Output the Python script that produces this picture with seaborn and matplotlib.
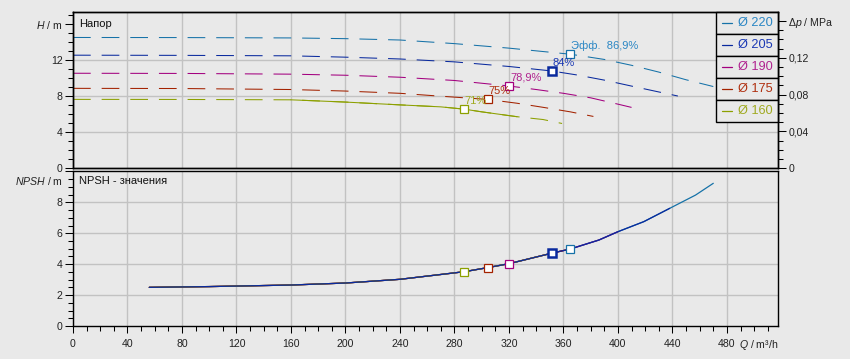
import numpy as np
import pandas as pd
import matplotlib.pyplot as plt
import matplotlib.ticker as mticker
from matplotlib.patches import Rectangle
import seaborn as sns

# impeller diameters and their colours
diameters = ["Ø 220", "Ø 205", "Ø 190", "Ø 175", "Ø 160"]
line_colors = ["#1672a8", "#0a2a9e", "#a3007f", "#a32200", "#8ca000"]
text_colors = ["#2a86c4", "#1a38b4", "#b0228f", "#b03010", "#a0aa20"]

# H-Q curves (m³/h, m)
q_220 = [0, 80, 160, 200, 240, 280, 320, 350, 365, 390, 410, 430, 450, 470]
h_220 = [14.48, 14.47, 14.43, 14.35, 14.2, 13.8, 13.3, 12.85, 12.63, 12.05, 11.4, 10.65, 9.8, 9.05]
q_205 = [0, 80, 160, 200, 240, 280, 320, 351, 370, 390, 410, 430, 444]
h_205 = [12.52, 12.5, 12.45, 12.3, 12.1, 11.78, 11.27, 10.78, 10.33, 9.76, 9.1, 8.45, 8.0]
q_190 = [0, 80, 160, 200, 240, 280, 320, 340, 360, 380, 400, 410]
h_190 = [10.52, 10.5, 10.42, 10.3, 10.08, 9.72, 9.11, 8.72, 8.3, 7.8, 7.1, 6.74]
q_175 = [0, 80, 160, 200, 240, 270, 304, 326, 345, 365, 382]
h_175 = [8.85, 8.83, 8.72, 8.55, 8.3, 7.98, 7.63, 7.2, 6.75, 6.25, 5.74]
q_160 = [0, 80, 160, 200, 240, 270, 287, 300, 326, 345, 359]
h_160 = [7.63, 7.62, 7.58, 7.33, 7.02, 6.8, 6.55, 6.25, 5.71, 5.4, 4.96]
q_curves = [q_220, q_205, q_190, q_175, q_160]
h_curves = [h_220, h_205, h_190, h_175, h_160]

# NPSH curve (shared), end of each diameter's range
npsh_q = [56, 100, 160, 200, 240, 287, 304, 320, 351, 365, 386, 400, 419, 438, 457, 470]
npsh_h = [2.5, 2.55, 2.65, 2.78, 3.02, 3.51, 3.77, 4.03, 4.7, 4.98, 5.56, 6.1, 6.75, 7.61, 8.47, 9.23]
q_max = [470, 444, 410, 382, 359]

# best efficiency points
eff_q = [364.8, 351.3, 320, 304.3, 286.7]
eff_h = [12.63, 10.78, 9.11, 7.63, 6.59]
eff_npsh = [4.98, 4.7, 4.03, 3.77, 3.51]
eff_labels = ["Эфф.  86,9%", "84%", "78,9%", "75%", "71%"]

x_ticks = list(range(0, 481, 40))
h_ticks = [0, 4, 8, 12, 16]
h_labels = ["0", "4", "8", "12", "$H$ / m"]
p_ticks = [0, 0.04, 0.08, 0.12, 0.16]
p_labels = ["0", "0,04", "0,08", "0,12", r"$\Delta p$ / MPa"]
n_ticks = [0, 2, 4, 6, 8, 10]
n_labels = ["0", "2", "4", "6", "8", ""]

bg = "#e9e9e9"
grid_c = "#c2c2c2"
fs = 7.6

sns.set_theme(style="ticks")
plt.rcParams["font.family"] = ["Liberation Sans", "DejaVu Sans"]
plt.rcParams["mathtext.fontset"] = "custom"
plt.rcParams["mathtext.rm"] = "Liberation Sans"
plt.rcParams["mathtext.it"] = "Liberation Sans:italic"
plt.rcParams["font.size"] = fs

fig = plt.figure(figsize=(8.5, 3.59), dpi=100, facecolor=bg)
ax = fig.add_axes([73 / 850, 1 - 168.3 / 359, 705 / 850, 156.3 / 359])
axn = fig.add_axes([73 / 850, 1 - 326 / 359, 705 / 850, 154.6 / 359])

curves = pd.DataFrame({
    "Q": np.concatenate(q_curves),
    "H": np.concatenate(h_curves),
    "D": np.repeat(diameters, [len(q) for q in q_curves]),
})
palette = dict(zip(diameters, line_colors))

sns.lineplot(data=curves, x="Q", y="H", hue="D", palette=palette, ax=ax,
             estimator=None, legend=False, lw=0.75, linestyle=(0, (17, 10.5)))
# Ø 160 drawn solid in its working range
solid = curves[(curves.D == "Ø 160") & (curves.Q >= 150) & (curves.Q <= 330)]
sns.lineplot(data=solid, x="Q", y="H", color=line_colors[4], ax=ax,
             estimator=None, legend=False, lw=0.75)

# NPSH lines, blue one on top
npsh = pd.DataFrame({"Q": npsh_q, "N": npsh_h})
for i in [0, 2, 3, 4, 1]:
    sub = npsh[npsh.Q <= q_max[i]]
    sns.lineplot(data=sub, x="Q", y="N", color=line_colors[i], ax=axn,
                 estimator=None, legend=False, lw=0.9)

edge_w = [0.9, 1.8, 0.9, 0.9, 0.9]
for i in range(5):
    for a, yv in [(ax, eff_h[i]), (axn, eff_npsh[i])]:
        a.plot(eff_q[i], yv, "s", ms=6, mfc="white", mec=line_colors[i],
               mew=edge_w[i], zorder=5)
    ax.annotate(eff_labels[i], xy=(eff_q[i], eff_h[i]), xytext=(1, 8),
                textcoords="offset pixels", ha="left", va="center",
                color=text_colors[i], fontsize=fs + 0.4, zorder=6)

p_scale = 0.00981
for a in (ax, axn):
    a.set_facecolor(bg)
    a.set_xlim(0, 517.5)
    a.set_xticks(x_ticks)
    a.xaxis.set_minor_locator(mticker.MultipleLocator(10))
    a.grid(True, color=grid_c, lw=1.0)
    a.set_xlabel("")
    a.set_ylabel("")
    for s in a.spines.values():
        s.set_color("black")
        s.set_linewidth(1.0)
    a.tick_params(which="major", length=5.8, width=0.75, color="black",
                  labelsize=fs, labelcolor="#222222", pad=1.5)
    a.tick_params(which="minor", length=3.6, width=0.75, color="black")
axn.tick_params(axis="x", which="major", length=5.0, pad=4.5)
axn.tick_params(axis="x", which="minor", length=3.4)

ax.set_ylim(0, 17.3)
ax.set_yticks(h_ticks)
ax.set_yticklabels(h_labels)
ax.yaxis.set_minor_locator(mticker.MultipleLocator(1))
ax.tick_params(axis="x", which="both", length=0, labelbottom=False)
ax.grid(False, axis="y")
for yv in [4, 8, 12]:
    ax.axhline(yv, color=grid_c, lw=1.0, zorder=0.5)

axp = ax.twinx()
axp.set_ylim(0, 17.3 * p_scale)
axp.set_yticks(p_ticks)
axp.set_yticklabels(p_labels)
axp.yaxis.set_minor_locator(mticker.MultipleLocator(0.01))
axp.tick_params(which="major", length=5.8, width=0.75, color="black",
                labelsize=fs, labelcolor="#222222", pad=1.5)
axp.tick_params(which="minor", length=3.6, width=0.75, color="black")
for s in axp.spines.values():
    s.set_linewidth(1.0)
    s.set_color("black")

axn.set_ylim(0, 10)
axn.set_yticks(n_ticks)
axn.set_yticklabels(n_labels)
axn.yaxis.set_minor_locator(mticker.MultipleLocator(0.5))
axn.grid(False, axis="y")
for yv in [2, 4, 6, 8]:
    axn.axhline(yv, color=grid_c, lw=1.0, zorder=0.5)

ax.text(0.0085, 0.923, "Напор", transform=ax.transAxes, ha="left",
        va="center", fontsize=fs + 0.4, color="#111111")
axn.text(0.0085, 0.938, "NPSH - значения", transform=axn.transAxes,
         ha="left", va="center", fontsize=fs + 0.4, color="#111111")
fig.text(63 / 850, 1 - 181 / 359, "$NPSH$ / m", ha="right", va="center",
         fontsize=fs, color="#222222")
fig.text(778 / 850, 1 - 345 / 359, "$Q$ / m³/h", ha="right", va="center",
         fontsize=fs, color="#222222")

# legend as stacked boxes
row_h = 22 / 156.3
x0 = (716 - 73) / 705
for i, name in enumerate(diameters):
    y_top = 1 - i * row_h
    ax.add_patch(Rectangle((x0, y_top - row_h), 1 - x0, row_h,
                           transform=ax.transAxes, facecolor=bg,
                           edgecolor="black", lw=1.0, zorder=10, clip_on=False))
    yc = y_top - row_h / 2
    ax.plot([x0 + 6 / 705, x0 + 16 / 705], [yc, yc], transform=ax.transAxes,
            color=line_colors[i], lw=0.9, zorder=11, clip_on=False)
    ax.text(x0 + 22 / 705, yc, name, transform=ax.transAxes, ha="left",
            va="center", fontsize=fs + 1.6, color=text_colors[i], zorder=11)

fig.savefig("out.png", dpi=100, facecolor=bg)
